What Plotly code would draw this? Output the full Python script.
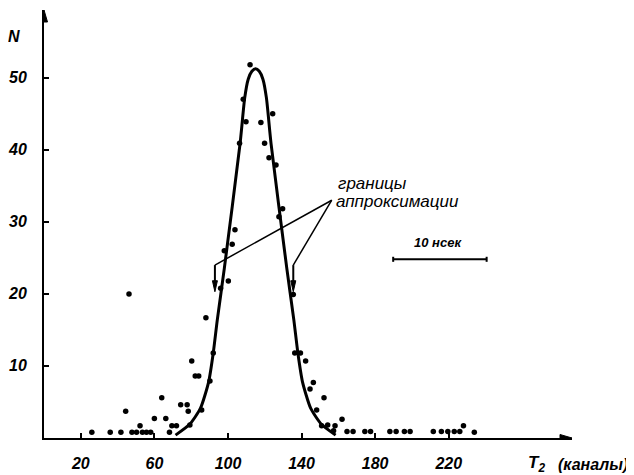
import plotly.graph_objects as go

# ---- data ----
dot_x = [26, 36, 41.8, 44.4, 46.2, 47.8, 50.3, 52.2, 53.5, 55.7, 58, 60, 64, 66.2, 68.2,
         69.5, 72, 74.3, 77.8, 78.4, 79.3, 80.3, 82.2, 84.1, 85.7, 88, 90.2, 92, 96,
         98, 100.2, 102.3, 103.8, 106.3, 108.3, 109.8, 112, 117.9, 119.9, 122.3, 124.3,
         126.1, 127.7, 129.7, 135.5, 136.3, 139.4, 142.2, 144.6, 146.4, 148.2, 150.9,
         152.2, 154.2, 157.4, 158.2, 162, 164.7, 168, 174.4, 177.5, 188, 191.4, 195.9,
         199, 211.6, 216, 219.5, 223, 226, 228, 233.9]
dot_n = [0.8, 0.8, 0.8, 3.7, 20, 0.8, 0.8, 1.7, 0.8, 0.8, 0.8, 2.7, 5.6, 2.7, 0.8,
         1.7, 1.7, 4.6, 4.6, 3.7, 1.8, 10.7, 8.6, 8.6, 3.9, 16.7, 7.9, 11.8, 20.8,
         26.0, 21.8, 26.9, 28.9, 40.9, 47.0, 43.9, 51.8, 43.8, 40.9, 38.9, 45.0,
         37.9, 30.7, 31.8, 19.9, 11.8, 11.8, 10.7, 6.8, 7.7, 3.9, 1.7,
         5.6, 1.8, 1.0, 1.7, 2.6, 0.9, 0.9, 0.9, 0.9, 0.9, 0.9, 0.9,
         0.9, 0.9, 0.9, 0.9, 0.9, 0.9, 1.7, 0.8]

curve_x = [71.5, 79.2, 85, 89.5, 92, 94.2, 98, 106.6, 109.1, 111.0, 113, 115,
           117, 119.0, 120.9, 123.4, 132, 135.8, 138, 140.5, 145, 150.8, 158.5]
curve_n = [0.4, 1.9, 4.1, 7.8, 11.8, 16.4, 23.5, 40.9, 47.2, 49.8, 50.9, 51.25,
           50.9, 49.8, 47.2, 40.9, 23.5, 16.4, 11.8, 7.8, 4.1, 1.9, 0.4]

x_ticks = [20, 60, 100, 140, 180, 220]
y_ticks = [10, 20, 30, 40, 50]

label_line1 = "границы"
label_line2 = "аппроксимации"
scale_text = "10 нсек"

FONT = "Liberation Sans"
tickfont = dict(family=FONT, size=16, color="black", style="italic", weight="bold")

fig = go.Figure()
fig.add_trace(go.Scatter(x=curve_x, y=curve_n, mode="lines",
                         line=dict(color="black", width=3, shape="spline", smoothing=0.6),
                         hoverinfo="skip", showlegend=False))
fig.add_trace(go.Scatter(x=dot_x, y=dot_n, mode="markers",
                         marker=dict(color="black", size=5.5),
                         showlegend=False, cliponaxis=False))


def head(xa, ya, path):
    fig.add_shape(type="path", xref="x", yref="y", xsizemode="pixel", ysizemode="pixel",
                  xanchor=xa, yanchor=ya, path=path,
                  fillcolor="black", line=dict(color="black", width=1))


# pointer lines with downward arrows
for xe in (92.9, 135.5):
    fig.add_shape(type="line", x0=156.4, y0=33.0, x1=xe, y1=24.0,
                  line=dict(color="black", width=1.5))
    fig.add_shape(type="line", x0=xe, y0=24.0, x1=xe, y1=21.5,
                  line=dict(color="black", width=2))
    head(xe, 20.3, "M -2.5 11 L 0 0 L 2.5 11 Z")

# scale bar
fig.add_shape(type="line", x0=189.8, y0=24.8, x1=240.6, y1=24.8,
              line=dict(color="black", width=2))
for xe in (189.8, 240.6):
    fig.add_shape(type="line", x0=xe, y0=24.45, x1=xe, y1=25.15,
                  line=dict(color="black", width=2))
fig.add_annotation(x=214, y=27.2, text=scale_text, showarrow=False,
                   xanchor="center", yanchor="middle",
                   font=dict(family=FONT, size=13, color="black", style="italic", weight="bold"))

labfont = dict(family=FONT, size=17, color="black", style="italic")
fig.add_annotation(x=158.8, y=35.35, text=label_line1, showarrow=False,
                   xanchor="left", yanchor="middle", font=labfont)
fig.add_annotation(x=157.8, y=32.8, text=label_line2, showarrow=False,
                   xanchor="left", yanchor="middle", font=labfont)

# y tick labels placed explicitly (right edge ~16 px left of the axis)
for v in y_ticks:
    fig.add_annotation(xref="paper", yref="y", x=-0.028, y=v, text=str(v),
                       xanchor="right", yanchor="middle", showarrow=False, font=tickfont)

# axis arrowheads
head(0, 59.4, "M -3.5 -12 L 0 0 L 3.5 -12 Z")
head(287, 0, "M -12 -3.5 L 0 0 L -12 3.5 Z")

# axis titles
axfont = dict(family=FONT, size=16, color="black", style="italic", weight="bold")
fig.add_annotation(xref="paper", yref="paper", x=-0.057, y=0.937, text="N",
                   xanchor="center", yanchor="middle", showarrow=False, font=axfont)
fig.add_annotation(xref="paper", yref="paper", x=0.912, y=-0.061,
                   text="T<sub>2</sub>", xanchor="left", yanchor="middle",
                   showarrow=False, font=dict(axfont, size=17))
fig.add_annotation(xref="paper", yref="paper", x=1.110, y=-0.061,
                   text="(каналы)", xanchor="right", yanchor="middle",
                   showarrow=False, font=dict(axfont, size=16))

# page has an 8px body margin: size the figure so the plot lands where the reference has it
fig.update_layout(
    width=626, height=467,
    margin=dict(l=36, r=62, t=2, b=37, autoexpand=False),
    paper_bgcolor="white", plot_bgcolor="white",
    showlegend=False,
)
fig.update_xaxes(range=[0, 287], tickvals=x_ticks, ticks="inside", ticklen=5,
                 tickwidth=1.5, tickcolor="black", showline=True, linecolor="black",
                 linewidth=2, showgrid=False, zeroline=False, tickfont=tickfont,
                 ticklabelstandoff=10, automargin=False)
fig.update_yaxes(range=[0, 59.4], tickvals=y_ticks, ticks="inside", ticklen=5,
                 tickwidth=1.5, tickcolor="black", showline=True, linecolor="black",
                 linewidth=2, showgrid=False, zeroline=False, showticklabels=False,
                 automargin=False)

fig.write_html("out.html")
